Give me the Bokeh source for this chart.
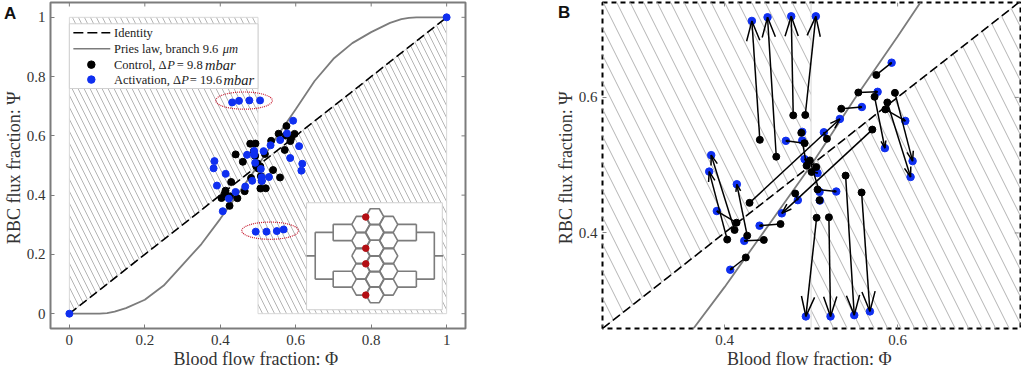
from bokeh.embed import file_html
from bokeh.resources import INLINE
from bokeh.plotting import figure
from bokeh.layouts import row
from bokeh.models import FixedTicker, Label, Range1d, Div

control_x = [.4408,.4598,.4794,.4933,.5754,.5546,.5734,.5349,.5969,.5881,.5858,.5183,.4925,.4887,.5708,.4289,.4986,.4948,.5006,.5060,.5075,.4817,.5098,.5399,.5584,.5064,.5206,.4647,.4454,.4262,.4139,.4116,.4031,.4246]
control_y = [.5374,.5125,.5735,.5740,.6331,.6072,.6009,.5833,.6067,.5925,.5823,.5389,.5324,.5477,.5525,.4444,.5070,.4993,.4899,.4972,.4641,.4582,.4484,.4846,.4597,.4224,.4230,.4132,.3897,.3960,.4151,.4044,.3902,.3638]
activ_x = [.4316,.4497,.4771,.5055,.5931,.5769,.5853,.5587,.6173,.6150,.6089,.5148,.4709,.4898,.4662,.5333,.5098,.4898,.5075,.4925,.5291,.4847,.5102,.5499,.5680,.4940,.5225,.4405,.4228,.4142,.3911,.3846,.3823,.4066]
activ_y = [.7128,.7182,.7196,.7196,.6512,.6082,.5251,.5858,.5060,.4826,.5653,.5485,.5359,.5491,.4289,.5682,.4606,.5364,.4884,.5089,.4611,.4484,.4477,.2787,.2842,.2768,.2768,.4107,.3883,.4718,.4323,.5148,.4905,.3457]
pries_x = [0,.08,.10,.12,.15,.20,.25,.30,.35,.40,.45,.50,.55,.60,.65,.70,.75,.80,.85,.88,.90,.92,1]
pries_y = [0,0,.0022,.0071,.0187,.047,.095,.165,.235,.32,.41,.5,.5972,.69,.785,.86,.913,.95,.9813,.994,.998,1,1]
ticks_a = [0,.2,.4,.6,.8,1]
ticks_b = [.4,.6]
tick_labels = {0:"0",.2:"0.2",.4:"0.4",.6:"0.6",.8:"0.8",1:"1"}
x_label = "Blood flow fraction:  Φ"
y_label = "RBC flux fraction:  Ψ"
hex_cols = {210:[103,152,198,244,292], 252:[80,127,175,222,268,315], 294:[103,152,198,244,292]}
red_y = [81,175,222,316]

SERIF = "Liberation Serif"
GREY = "#7c7c7c"
TXT = "#333333"
BLUE = "#0f2ff0"
HATCH = "#b4b4b4"

def style(p, ticks, spine, spine_dash, tick_color, hi, sx, sy):
    p.grid.visible = False
    p.outline_line_color = spine
    p.outline_line_width = 2
    p.outline_line_dash = spine_dash
    for ax in list(p.xaxis) + list(p.yaxis):
        ax.ticker = FixedTicker(ticks=ticks)
        ax.major_label_overrides = tick_labels
        ax.major_label_text_font = SERIF
        ax.major_label_text_font_size = "15px"
        ax.major_label_text_color = TXT
        ax.axis_line_color = None
        ax.major_tick_line_color = tick_color
        ax.major_tick_in = 4
        ax.major_tick_out = 0
        ax.minor_tick_line_color = None
        ax.axis_label_text_font = SERIF
        ax.axis_label_text_font_size = "18px"
        ax.axis_label_text_font_style = "normal"
        ax.axis_label_text_color = TXT
    p.xaxis.major_label_standoff = 6
    p.xaxis.axis_label_standoff = 1
    p.xaxis.axis_label_text_baseline = "top"
    p.yaxis.major_label_standoff = 5
    p.yaxis.axis_label_standoff = 0
    # inward ticks on the top and right sides
    p.segment(ticks, [hi] * len(ticks), ticks, [hi - 4 / sy] * len(ticks), line_color=tick_color, line_width=1)
    p.segment([hi] * len(ticks), ticks, [hi - 4 / sx] * len(ticks), ticks, line_color=tick_color, line_width=1)

def hatch(p, scale, a, b):
    p.patch([a, .5, .5, a], [a, .5, b, b], fill_alpha=0, line_color="#d8d8d8", line_width=1,
            hatch_pattern="left_diagonal_line", hatch_scale=scale, hatch_color=HATCH, hatch_weight=1)
    p.patch([.5, b, b, .5], [.5, b, a, a], fill_alpha=0, line_color="#d8d8d8", line_width=1,
            hatch_pattern="left_diagonal_line", hatch_scale=scale, hatch_color=HATCH, hatch_weight=1)

# ---------- panel A
pa = figure(width=500, height=371, output_backend="svg", toolbar_location=None,
            x_range=Range1d(-.05, 1.05), y_range=Range1d(-.05, 1.05),
            min_border_left=49, min_border_right=35, min_border_top=2, min_border_bottom=42,
            x_axis_label=x_label, y_axis_label=y_label)
hatch(pa, 12, 0, 1)
style(pa, ticks_a, GREY, "solid", GREY, 1.05, 378, 297.5)

def ax(px): return (px - 68) / 378
def ay(py): return (314 - py) / 297.5

# legend box
pa.quad(left=ax(68), right=ax(257), top=ay(23), bottom=ay(88), fill_color="white", line_color="#d0d0d0", line_width=1)
pa.line([ax(72), ax(109)], [ay(32), ay(32)], line_color="black", line_width=1.6, line_dash="10 4")
pa.line([ax(72), ax(109)], [ay(48), ay(48)], line_color=GREY, line_width=1.6)
pa.scatter([ax(90)], [ay(64)], size=7.5, color="black")
pa.scatter([ax(90)], [ay(79)], size=7.5, color=BLUE)
def lab(px, py, text, style="normal", size="12.5px"):
    pa.add_layout(Label(x=ax(px), y=ay(py), text=text, text_font=SERIF, text_font_size=size,
                        text_font_style=style, text_color="#222222", text_baseline="middle"))
lab(112.7, 32, "Identity")
lab(112.7, 48, "Pries law, branch 9.6")
lab(221.7, 48, "μm", "italic")
lab(112.7, 64, "Control, Δ")
lab(166, 64, "P", "italic")
lab(175.7, 64, "= 9.8")
lab(204, 64, "mbar", "italic", "14.5px")
lab(112.7, 79, "Activation, Δ")
lab(180, 79, "P", "italic")
lab(188.7, 79, "= 19.6")
lab(222.5, 79, "mbar", "italic", "14.5px")

# inset
def ix(z): return ax(290 + z / 3)
def iy(z): return ay(190 + z / 3)
pa.quad(left=ix(47), right=ix(455), top=iy(38), bottom=iy(360), fill_color="white", line_color="#d0d0d0", line_width=1)
xs, ys = [], []
for cx, cys in hex_cols.items():
    for cy in cys:
        vx = [cx-27, cx-13.5, cx+13.5, cx+27, cx+13.5, cx-13.5, cx-27]
        vy = [cy, cy-24, cy-24, cy, cy+24, cy+24, cy]
        xs.append([ix(v) for v in vx]); ys.append([iy(v) for v in vy])
pipes = []
for sgn in (1, -1):
    m = lambda v: 252 + sgn * v
    pipes += [([m(-205), m(-179)], [198, 198]), ([m(-179), m(-179)], [127, 268]),
              ([m(-179), m(-125)], [127, 127]), ([m(-179), m(-125)], [268, 268]),
              ([m(-125), m(-125)], [103, 152]), ([m(-125), m(-125)], [244, 292])]
    for yy in (103, 152, 244, 292):
        pipes.append(([m(-125), m(-69)], [yy, yy]))
for a, b in pipes:
    xs.append([ix(v) for v in a]); ys.append([iy(v) for v in b])
pa.multi_line(xs, ys, line_color=GREY, line_width=1.6)
pa.scatter([ix(225)] * 4, [iy(v) for v in red_y], size=6.5, color="#b30f14")

pa.line([0, 1], [0, 1], line_color="black", line_width=1.6, line_dash="9 4")
pa.line(pries_x, pries_y, line_color=GREY, line_width=1.8)
pa.scatter(control_x, control_y, size=7, color="black")
pa.scatter(activ_x + [0, 1], activ_y + [0, 1], size=7, color=BLUE)
for cx, cy in ((.463, .719), (.532, .28)):
    pa.ellipse([cx], [cy], width=.15, height=.058, fill_alpha=0, line_color="#c81e32", line_width=1.2, line_dash="1 1")

# ---------- panel B
pb = figure(width=521, height=371, output_backend="svg", toolbar_location=None,
            x_range=Range1d(.259, .742), y_range=Range1d(.259, .74),
            min_border_left=102, min_border_right=1, min_border_top=2, min_border_bottom=42,
            x_axis_label=x_label, y_axis_label=y_label)
hatch(pb, 27, .2, .8)
style(pb, ticks_b, "black", "5 4", "#888888", .74, 865, 682)
pb.line([.2, .8], [.2, .8], line_color="black", line_width=1.6, line_dash="9 4")
pb.line(pries_x, pries_y, line_color=GREY, line_width=1.8)
pb.scatter(activ_x, activ_y, size=7.5, color=BLUE)

SX, SY = 865.0, 682.0
ax_lines, ay_lines = [], []
for x0, y0, x1, y1 in zip(control_x, control_y, activ_x, activ_y):
    dx, dy = (x1 - x0) * SX, (y1 - y0) * SY
    L = (dx * dx + dy * dy) ** .5 or 1
    h = 20 if abs(dy) > 90 else min(.14 * L, 10)
    w = h * .33
    ux, uy = dx / L, dy / L
    ax_lines.append([x0, x1]); ay_lines.append([y0, y1])
    ax_lines.append([x1 + (-ux * h - uy * w) / SX, x1, x1 + (-ux * h + uy * w) / SX])
    ay_lines.append([y1 + (-uy * h + ux * w) / SY, y1, y1 + (-uy * h - ux * w) / SY])
pb.multi_line(ax_lines, ay_lines, line_color="black", line_width=1.5)
pb.scatter(control_x, control_y, size=7, color="black")

def letter(text, left, top):
    return Div(text=text, width=16, height=20, margin=0,
               styles={"position": "absolute", "left": f"{left}px", "top": f"{top}px",
                       "font-family": "Liberation Sans", "font-weight": "bold", "font-size": "17px",
                       "line-height": "17px", "color": "#111111"})

root = row(pa, pb, letter("A", 4, 5), letter("B", 558, 4), spacing=0,
           styles={"position": "absolute", "left": "0px", "top": "0px"})
open("out.html", "w").write(file_html(root, INLINE))
